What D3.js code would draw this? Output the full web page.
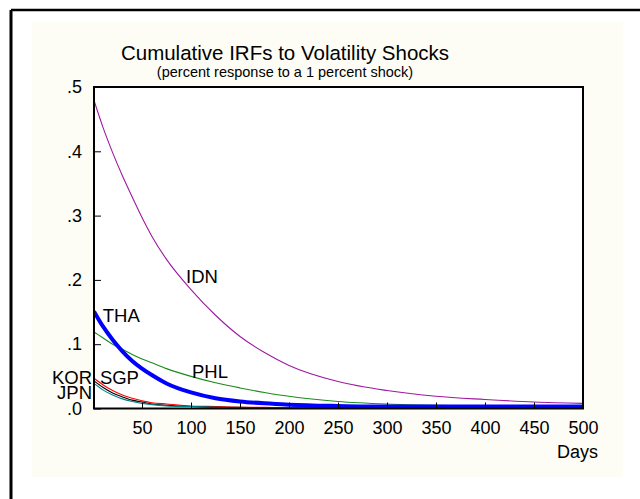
<!DOCTYPE html>
<html>
<head>
<meta charset="utf-8">
<script src="https://cdn.jsdelivr.net/npm/d3@7"></script>
<style>
  html, body { margin: 0; padding: 0; background: #ffffff; }
  svg { display: block; font-family: "Liberation Sans", Arial, sans-serif; }
</style>
</head>
<body>
<svg id="chart" width="640" height="499"></svg>
<script>
// ---- data ----
const days = [1, 10, 20, 30, 40, 50, 60, 75, 100, 125, 150, 175, 200, 250, 300, 350, 400, 450, 500];
const IDN = [0.479, 0.438, 0.398, 0.362, 0.329, 0.297, 0.268, 0.232, 0.185, 0.145, 0.112, 0.087, 0.067, 0.042, 0.028, 0.019, 0.014, 0.010, 0.008];
const THA = [0.151, 0.128, 0.107, 0.089, 0.074, 0.062, 0.052, 0.039, 0.025, 0.016, 0.011, 0.008, 0.006, 0.004, 0.003, 0.003, 0.003, 0.003, 0.003];
const PHL = [0.119, 0.110, 0.100, 0.092, 0.084, 0.077, 0.071, 0.062, 0.050, 0.040, 0.032, 0.025, 0.019, 0.011, 0.007, 0.005, 0.004, 0.003, 0.003];
const KOR = [0.047, 0.037, 0.028, 0.021, 0.016, 0.012, 0.009, 0.007, 0.004, 0.003, 0.002, 0.002, 0.001, 0.001, 0.001, 0.001, 0.001, 0.001, 0.001];
const SGP = [0.043, 0.033, 0.024, 0.018, 0.013, 0.010, 0.007, 0.005, 0.003, 0.002, 0.002, 0.001, 0.001, 0.001, 0.001, 0.001, 0.001, 0.001, 0.001];
const JPN = [0.039, 0.029, 0.021, 0.015, 0.011, 0.008, 0.006, 0.004, 0.003, 0.002, 0.001, 0.001, 0.001, 0.001, 0.001, 0.001, 0.001, 0.001, 0.001];
const xTicks = [50, 100, 150, 200, 250, 300, 350, 400, 450, 500];
const yTicks = [0, 0.1, 0.2, 0.3, 0.4, 0.5];
const yTickLabels = [".0", ".1", ".2", ".3", ".4", ".5"];
const seriesNames = ["IDN", "PHL", "KOR", "SGP", "JPN", "THA"];
const seriesValues = [IDN, PHL, KOR, SGP, JPN, THA];
const seriesColors = ["#a01aa0", "#1a8c1a", "#ff0000", "#000000", "#008080", "#0000ff"];
const seriesWidths = [1.1, 1.1, 1.1, 1.1, 1.1, 4];
// label anchors in data coordinates (day, value)
const labelText = ["IDN", "THA", "PHL", "SGP", "KOR", "JPN"];
const labelDay = [95, 10, 101, 7, -1, -1];
const labelVal = [0.195, 0.1345, 0.0474, 0.0375, 0.0375, 0.0150];
const labelAnchor = ["start", "start", "start", "start", "end", "end"];

// ---- layout ----
const svg = d3.select("#chart");
const plot = { left: 94, right: 583, top: 87, bottom: 408.5 };
const x = d3.scaleLinear().domain([1, 500]).range([plot.left, plot.right]);
const y = d3.scaleLinear().domain([0, 0.5]).range([plot.bottom, plot.top]);

// outer frame (left & top lines only visible)
svg.append("rect").attr("x", 32).attr("y", 22).attr("width", 591).attr("height", 455)
  .attr("fill", "#fdfdf5");
svg.append("line").attr("x1", 11).attr("y1", 10).attr("x2", 640).attr("y2", 10)
  .attr("stroke", "#000").attr("stroke-width", 2.5);
svg.append("line").attr("x1", 11).attr("y1", 10).attr("x2", 11).attr("y2", 499)
  .attr("stroke", "#000").attr("stroke-width", 3);

// plot area
svg.append("rect").attr("x", plot.left).attr("y", plot.top)
  .attr("width", plot.right - plot.left).attr("height", plot.bottom - plot.top)
  .attr("fill", "#ffffff");

// title
svg.append("text").attr("x", 285).attr("y", 60).attr("text-anchor", "middle")
  .attr("font-size", 20.5).attr("fill", "#000").text("Cumulative IRFs to Volatility Shocks");
svg.append("text").attr("x", 285).attr("y", 77).attr("text-anchor", "middle")
  .attr("font-size", 14.5).attr("fill", "#000").text("(percent response to a 1 percent shock)");

// clip
svg.append("clipPath").attr("id", "clip").append("rect")
  .attr("x", plot.left).attr("y", plot.top - 2)
  .attr("width", plot.right - plot.left).attr("height", plot.bottom - plot.top + 2);

const line = d3.line().x((d, i) => x(days[i])).y(d => y(d)).curve(d3.curveMonotoneX);
const g = svg.append("g").attr("clip-path", "url(#clip)");
seriesValues.forEach((vals, k) => {
  g.append("path").datum(vals).attr("d", line)
    .attr("fill", "none").attr("stroke", seriesColors[k])
    .attr("stroke-width", seriesWidths[k]).attr("stroke-linejoin", "round");
});

// axes
const xAxis = d3.axisBottom(x).tickValues(xTicks).tickSizeInner(-6).tickSizeOuter(0).tickPadding(13);
const gx = svg.append("g").attr("transform", `translate(0,${plot.bottom})`).call(xAxis);
gx.select(".domain").remove();
gx.selectAll(".tick line").attr("stroke", "#000");
gx.selectAll(".tick text").attr("font-size", 18).attr("font-family", "Liberation Sans, Arial, sans-serif").attr("fill", "#000");

const yAxis = d3.axisLeft(y).tickValues(yTicks).tickFormat((d, i) => yTickLabels[i])
  .tickSizeInner(-7).tickSizeOuter(0).tickPadding(12);
const gy = svg.append("g").attr("transform", `translate(${plot.left},0)`).call(yAxis);
gy.select(".domain").remove();
gy.selectAll(".tick line").attr("stroke", "#000");
gy.selectAll(".tick text").attr("font-size", 18).attr("font-family", "Liberation Sans, Arial, sans-serif").attr("fill", "#000");

// plot frame
svg.append("rect").attr("x", plot.left).attr("y", plot.top)
  .attr("width", plot.right - plot.left).attr("height", plot.bottom - plot.top)
  .attr("fill", "none").attr("stroke", "#000").attr("stroke-width", 2);

// Days label
svg.append("text").attr("x", 598).attr("y", 458).attr("text-anchor", "end")
  .attr("font-size", 18).attr("fill", "#000").text("Days");

// series labels
labelText.forEach((t, i) => {
  svg.append("text").attr("x", x(labelDay[i])).attr("y", y(labelVal[i]))
    .attr("text-anchor", labelAnchor[i]).attr("font-size", 18.5).attr("fill", "#000").text(t);
});
</script>
</body>
</html>
